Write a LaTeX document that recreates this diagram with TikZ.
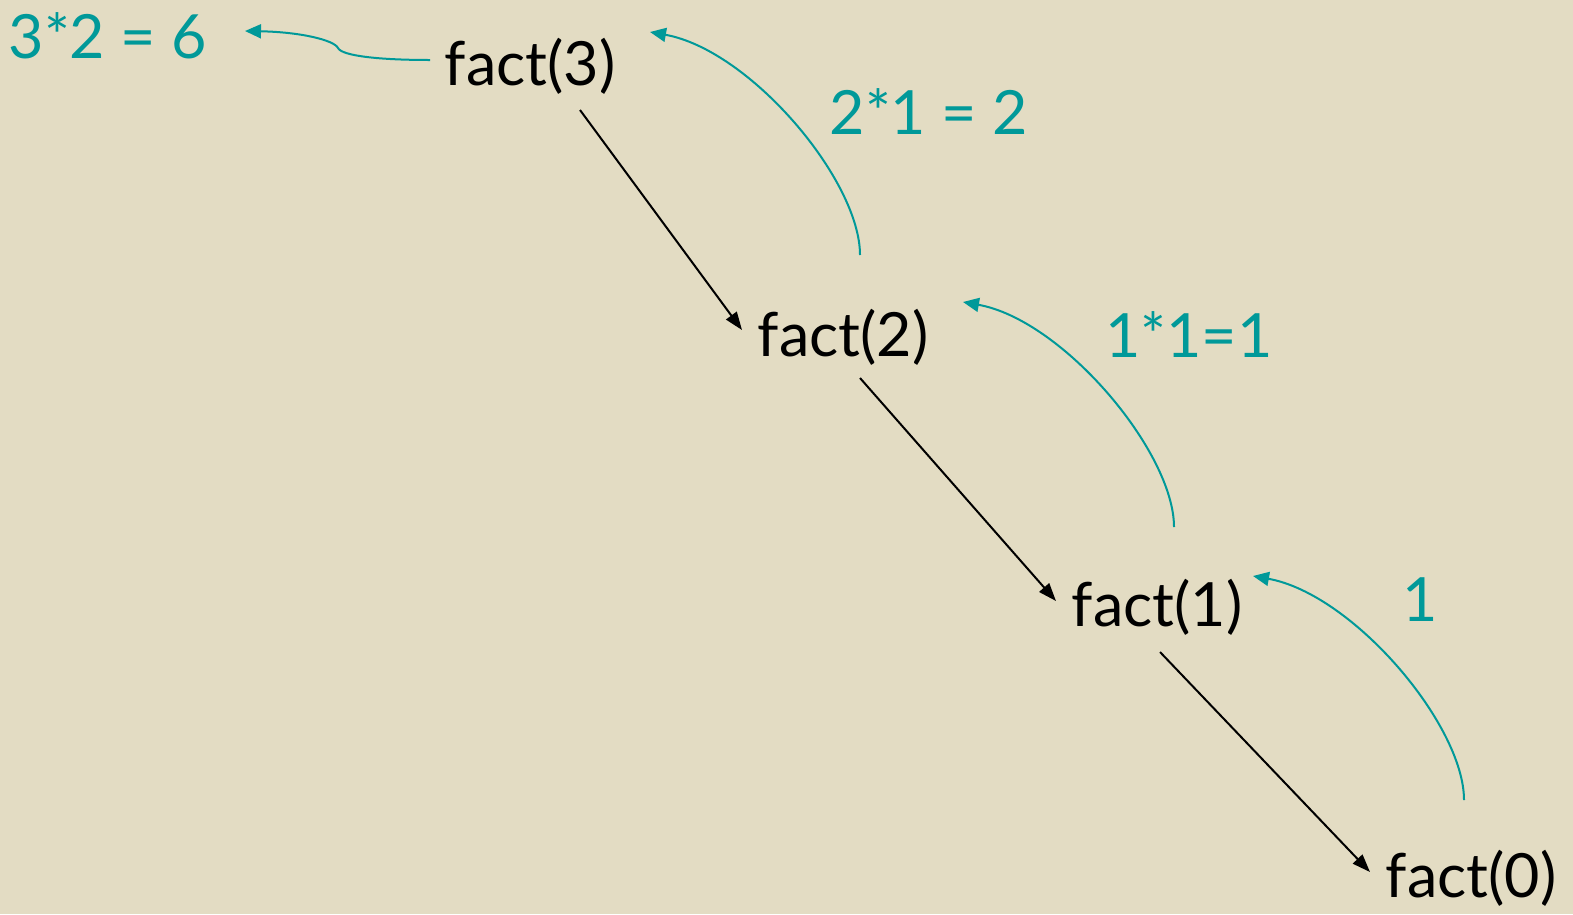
\documentclass[tikz,border=0pt]{standalone}
\usepackage{fontspec}
\setmainfont{Lato}
\usetikzlibrary{arrows.meta}
\definecolor{bg}{RGB}{227,220,195}
\definecolor{tealc}{RGB}{0,153,153}
\tikzset{
  lbl/.style={inner sep=0pt, font=\fontsize{61}{72}\selectfont, text=black},
  res/.style={inner sep=0pt, font=\fontsize{61}{72}\selectfont, text=tealc},
  call/.style={draw=black, line width=2pt, -{Triangle[length=18pt,width=13pt]}},
  ret/.style={draw=tealc, line width=2pt, -{Triangle[length=16pt,width=14pt]}}
}
\begin{document}
\begin{tikzpicture}[x=1pt,y=-1pt]
\fill[bg] (0,0) rectangle (1573,914);
\useasboundingbox (0,0) rectangle (1573,914);

\node[lbl] (f3) at (530,66) {fact(3)};
\node[lbl] (f2) at (843,337) {fact(2)};
\node[lbl] (f1) at (1157,607) {fact(1)};
\node[lbl] (f0) at (1471,878) {fact(0)};

\node[res] (r3) at (108,36) {3*2 = 6};
\node[res] (r2) at (929,112) {2*1 = 2};
\node[res] (r1) at (1189,335) {1*1=1};
\node[res] (r0) at (1420,600) {1};

% call arrows
\coordinate (c3s) at ([shift={(50,44)}]f3.center);
\coordinate (c2e) at ([shift={(-101,-7)}]f2.center);
\coordinate (c2s) at ([shift={(17,41)}]f2.center);
\coordinate (c1e) at ([shift={(-101,-6)}]f1.center);
\coordinate (c1s) at ([shift={(3,45)}]f1.center);
\coordinate (c0e) at ([shift={(-101,-6)}]f0.center);
\draw[call] (c3s) -- (c2e);
\draw[call] (c2s) -- (c1e);
\draw[call] (c1s) -- (c0e);

% return arcs
\coordinate (a2s) at ([shift={(17,-82)}]f2.center);
\coordinate (a3e) at ([shift={(120,-34)}]f3.center);
\draw[ret] (a2s) .. controls ++(0,-75) and ([shift={(100,18)}]a3e) .. (a3e);

\coordinate (a1s) at ([shift={(17,-80)}]f1.center);
\coordinate (a2e) at ([shift={(120,-35)}]f2.center);
\draw[ret] (a1s) .. controls ++(0,-75) and ([shift={(100,18)}]a2e) .. (a2e);

\coordinate (a0s) at ([shift={(-7,-78)}]f0.center);
\coordinate (a1e) at ([shift={(96,-31)}]f1.center);
\draw[ret] (a0s) .. controls ++(0,-75) and ([shift={(100,18)}]a1e) .. (a1e);

% top-left brace-like return
\coordinate (b3s) at ([shift={(-100,-6)}]f3.center);
\coordinate (b3e) at ([shift={(137,-5)}]r3.center);
\draw[ret] (b3s) .. controls ++(-50,0) and (342,56) .. (338,48)
  .. controls (334,40) and (300,32) .. (b3e);
\end{tikzpicture}
\end{document}
